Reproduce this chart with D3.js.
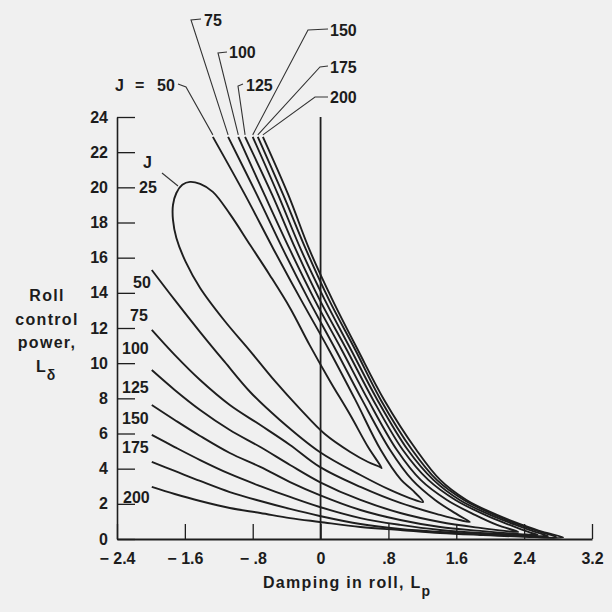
<!DOCTYPE html>
<html>
<head>
<meta charset="utf-8">
<script src="https://cdn.jsdelivr.net/npm/d3@7"></script>
<style>
  body { margin: 0; background: #f0f0f0; }
  svg { display: block; }
  text { font-family: "Liberation Sans", Arial, sans-serif; font-weight: bold; fill: #1c1c1c; }
</style>
</head>
<body>
<svg id="chart" width="612" height="612"></svg>
<script>
// Axis ticks
const xTicks = [-2.4, -1.6, -0.8, 0, 0.8, 1.6, 2.4, 3.2];
const xTickLabels = ["\u2212 2.4", "\u2212 1.6", "\u2212 .8", "0", ".8", "1.6", "2.4", "3.2"];
const yTicks = [0, 2, 4, 6, 8, 10, 12, 14, 16, 18, 20, 22, 24];
const yTickLabels = ["0", "2", "4", "6", "8", "10", "12", "14", "16", "18", "20", "22", "24"];

// Contour levels of J
const jLevels = [25, 50, 75, 100, 125, 150, 175, 200];

// J = 25 is a closed loop; points are [Lp, Ld]
const j25 = [[0.72,4.04],[0.56,5.23],[0.35,7.05],[0.11,8.99],[-0.13,11.04],[-0.36,13.14],[-0.6,15.02],[-0.83,16.72],[-1.07,18.49],[-1.27,19.74],[-1.42,20.19],[-1.54,20.31],[-1.63,20.14],[-1.7,19.68],[-1.74,19.0],[-1.74,18.15],[-1.7,17.12],[-1.59,15.76],[-1.42,14.28],[-1.13,12.4],[-0.83,10.69],[-0.54,8.99],[-0.24,7.39],[0.05,5.97],[0.35,4.95],[0.56,4.38],[0.7,4.1]];

// Open contours: lower branch from Lp = -2 out to the tip, then the steep upper branch back to the top
const j50 = [[-1.99,15.3],[-1.72,13.6],[-1.42,11.77],[-1.13,10.07],[-0.83,8.36],[-0.48,6.77],[-0.01,4.95],[0.47,3.64],[0.82,2.79],[1.05,2.33],[1.21,2.1],[1.08,2.79],[0.95,3.36],[0.71,5.06],[0.41,7.91],[0.1,10.75],[-0.23,13.6],[-0.55,16.44],[-0.89,19.57],[-1.27,22.87]];
const j75 = [[-1.99,11.89],[-1.72,10.47],[-1.42,9.04],[-1.07,7.62],[-0.71,6.48],[-0.36,5.35],[-0.01,4.1],[0.47,2.96],[0.94,2.05],[1.41,1.37],[1.64,1.08],[1.76,0.97],[1.62,1.37],[1.35,2.22],[1.08,3.36],[0.82,5.06],[0.49,7.91],[0.18,10.75],[-0.14,13.6],[-0.44,16.44],[-0.75,19.57],[-1.09,22.87]];
const j100 = [[-1.99,9.61],[-1.72,8.48],[-1.42,7.34],[-1.07,6.2],[-0.71,5.23],[-0.36,4.21],[-0.01,3.24],[0.47,2.22],[0.94,1.48],[1.41,0.97],[1.88,0.63],[2.17,0.46],[2.33,0.4],[2.08,0.8],[1.82,1.37],[1.49,2.22],[1.18,3.36],[0.9,5.06],[0.56,7.91],[0.25,10.75],[-0.07,13.6],[-0.36,16.44],[-0.66,19.57],[-0.97,22.87]];
const j125 = [[-1.99,7.62],[-1.72,6.77],[-1.42,5.86],[-1.07,4.89],[-0.71,4.1],[-0.36,3.24],[-0.01,2.5],[0.47,1.65],[0.94,1.08],[1.41,0.68],[1.88,0.46],[2.35,0.28],[2.56,0.23],[2.45,0.4],[2.23,0.8],[1.94,1.37],[1.59,2.22],[1.27,3.36],[0.97,5.06],[0.62,7.91],[0.31,10.75],[-0.01,13.6],[-0.29,16.44],[-0.57,19.57],[-0.89,22.87]];
const j150 = [[-1.99,5.92],[-1.72,5.23],[-1.42,4.49],[-1.07,3.7],[-0.71,3.01],[-0.36,2.39],[-0.01,1.82],[0.47,1.19],[0.94,0.8],[1.41,0.51],[1.88,0.34],[2.35,0.23],[2.68,0.17],[2.53,0.4],[2.3,0.8],[2.0,1.37],[1.64,2.22],[1.33,3.36],[1.03,5.06],[0.67,7.91],[0.36,10.75],[0.05,13.6],[-0.23,16.44],[-0.5,19.57],[-0.8,22.87]];
const j175 = [[-1.99,4.38],[-1.72,3.87],[-1.42,3.3],[-1.07,2.67],[-0.71,2.16],[-0.36,1.71],[-0.01,1.31],[0.47,0.85],[0.94,0.57],[1.41,0.4],[1.88,0.28],[2.35,0.17],[2.78,0.11],[2.59,0.4],[2.35,0.8],[2.05,1.37],[1.69,2.22],[1.37,3.36],[1.08,5.06],[0.71,7.91],[0.41,10.75],[0.1,13.6],[-0.17,16.44],[-0.44,19.57],[-0.74,22.87]];
const j200 = [[-1.99,2.96],[-1.72,2.56],[-1.42,2.16],[-1.07,1.76],[-0.71,1.48],[-0.36,1.19],[-0.01,0.97],[0.47,0.68],[0.94,0.51],[1.41,0.34],[1.88,0.23],[2.35,0.14],[2.86,0.09],[2.62,0.4],[2.38,0.8],[2.08,1.37],[1.72,2.22],[1.41,3.36],[1.13,5.06],[0.75,7.91],[0.44,10.75],[0.14,13.6],[-0.13,16.44],[-0.38,19.57],[-0.68,22.87]];

const openContours = [
  { j: 50, pts: j50 }, { j: 75, pts: j75 }, { j: 100, pts: j100 }, { j: 125, pts: j125 },
  { j: 150, pts: j150 }, { j: 175, pts: j175 }, { j: 200, pts: j200 }
];

const svg = d3.select("#chart");
const x = d3.scaleLinear().domain([-2.4, 3.2]).range([117, 592]);
const y = d3.scaleLinear().domain([0, 24]).range([539, 117]);

const ink = "#1e1e1e";

// Y axis: ticks point inward, labels on the left
const yAxis = d3.axisLeft(y).tickValues(yTicks)
  .tickFormat((d, i) => yTickLabels[i]).tickSizeInner(-18).tickSizeOuter(0).tickPadding(9);
const gy = svg.append("g").attr("transform", `translate(${x(-2.4)},0)`).call(yAxis);
gy.select(".domain").attr("stroke", ink).attr("stroke-width", 1.6);
gy.selectAll(".tick line").attr("stroke", ink).attr("stroke-width", 1.3);
gy.selectAll(".tick text").attr("font-size", 16).attr("fill", ink)
  .style("font-family", '"Liberation Sans", Arial, sans-serif').style("font-weight", "bold");

// X axis: ticks point up, labels below
const xAxis = d3.axisBottom(x).tickValues(xTicks)
  .tickFormat((d, i) => xTickLabels[i]).tickSizeInner(-15).tickSizeOuter(0).tickPadding(14);
const gx = svg.append("g").attr("transform", `translate(0,${y(0)})`).call(xAxis);
gx.select(".domain").attr("stroke", ink).attr("stroke-width", 1.8);
gx.selectAll(".tick line").attr("stroke", ink).attr("stroke-width", 1.3);
gx.selectAll(".tick text").attr("font-size", 16).attr("fill", ink)
  .style("font-family", '"Liberation Sans", Arial, sans-serif').style("font-weight", "bold")
  .style("white-space", "pre");

// Reference line Lp = 0
svg.append("line")
  .attr("x1", x(0)).attr("x2", x(0)).attr("y1", y(0)).attr("y2", y(24))
  .attr("stroke", ink).attr("stroke-width", 1.8);

// Contours
const line = d3.line().x(d => x(d[0])).y(d => y(d[1])).curve(d3.curveCatmullRom.alpha(0.5));
const closedLine = d3.line().x(d => x(d[0])).y(d => y(d[1])).curve(d3.curveCatmullRomClosed.alpha(0.5));

svg.append("path").attr("d", closedLine(j25))
  .attr("fill", "none").attr("stroke", ink).attr("stroke-width", 1.9);

svg.append("g").selectAll("path").data(openContours).join("path")
  .attr("d", d => line(d.pts))
  .attr("fill", "none").attr("stroke", ink).attr("stroke-width", 1.9);

// Labels at the upper ends, with leader lines to the contour tops
const topLayout = {
  75:  { tx: 204, ty: 26, hook: [[201, 19], [191, 20]] },
  100: { tx: 229, ty: 58, hook: [[227, 52], [218, 53]] },
  125: { tx: 246, ty: 91, hook: [[243, 84], [238, 86]] },
  150: { tx: 330, ty: 36, hook: [[328, 29], [308, 30]] },
  175: { tx: 330, ty: 73, hook: [[328, 66], [320, 67]] },
  200: { tx: 330, ty: 103, hook: [[328, 97], [315, 97]] },
  50:  { tx: 157, ty: 91, hook: [[178, 84], [186, 87]] }
};
const leader = d3.line();
openContours.forEach(c => {
  const lay = topLayout[c.j];
  const top = c.pts[c.pts.length - 1];
  svg.append("path")
    .attr("d", leader([...lay.hook, [x(top[0]), y(top[1]) - 2]]))
    .attr("fill", "none").attr("stroke", "#333").attr("stroke-width", 1.1);
  if (c.j !== 50) {
    svg.append("text").attr("x", lay.tx).attr("y", lay.ty).attr("font-size", 16).text(c.j);
  }
});
const j50Label = svg.append("text").attr("y", 91).attr("font-size", 16);
j50Label.append("tspan").attr("x", 115).text("J");
j50Label.append("tspan").attr("x", 135).text("=");
j50Label.append("tspan").attr("x", 157).text("50");

// Labels at the left ends of the lower branches
const leftLayout = { 50: [133, 288], 75: [130, 321], 100: [122, 354], 125: [122, 393], 150: [122, 424], 175: [122, 453], 200: [123, 503] };
openContours.forEach(c => {
  const p = leftLayout[c.j];
  svg.append("text").attr("x", p[0]).attr("y", p[1]).attr("font-size", 16).text(c.j);
});

// J = 25 label with its leader
svg.append("text").attr("x", 143).attr("y", 168).attr("font-size", 16).text("J");
svg.append("text").attr("x", 139).attr("y", 193).attr("font-size", 16).text(jLevels[0]);
svg.append("line").attr("x1", 162).attr("y1", 173).attr("x2", 178).attr("y2", 186)
  .attr("stroke", "#333").attr("stroke-width", 1.1);

// Axis titles
const xTitle = svg.append("text").attr("x", 263).attr("y", 588).attr("font-size", 16)
  .attr("letter-spacing", 1.3);
xTitle.append("tspan").text("Damping in roll, L");
xTitle.append("tspan").attr("font-size", 14).attr("dy", 8).text("p");

const yTitleLines = ["Roll", "control", "power,"];
const yBase = [301, 325, 348];
yTitleLines.forEach((t, i) => {
  svg.append("text").attr("x", 47).attr("y", yBase[i]).attr("text-anchor", "middle")
    .attr("font-size", 16).attr("letter-spacing", 1.3).text(t);
});
const lTitle = svg.append("text").attr("x", 36).attr("y", 372).attr("font-size", 16);
lTitle.append("tspan").text("L");
lTitle.append("tspan").attr("font-size", 14).attr("dy", 8).attr("dx", 1).text("\u03b4");
</script>
</body>
</html>
